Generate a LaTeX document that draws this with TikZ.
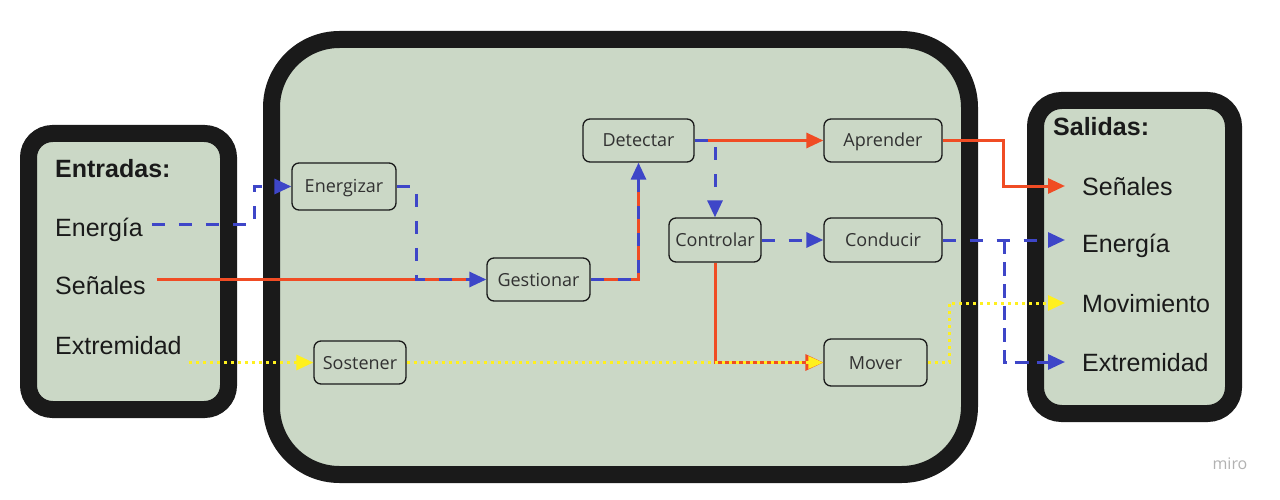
\documentclass[tikz,border=0pt]{standalone}
\usepackage{fontspec}
\setmainfont{Liberation Sans}
\newfontfamily\osans{Open Sans}
\usetikzlibrary{arrows.meta,calc}
\definecolor{sage}{RGB}{203,216,198}
\definecolor{frame}{RGB}{26,26,26}
\definecolor{bl}{RGB}{62,70,200}
\definecolor{rd}{RGB}{240,76,36}
\definecolor{yl}{RGB}{255,240,30}
\begin{document}
\begin{tikzpicture}[x=1pt,y=-1pt,
 bigbox/.style={draw=frame, line width=17pt, fill=sage},
 proc/.style={draw=frame, line width=1.3pt, rounded corners=7pt, fill=sage, inner sep=0pt,
   font=\osans\fontsize{18}{21}\selectfont, text=frame!90, text height=13pt, text depth=0pt},
 lbl/.style={anchor=west, inner sep=0pt, font=\fontsize{25}{28}\selectfont, text=frame,
   text height=18pt, text depth=0pt},
 hdr/.style={lbl, font=\bfseries\fontsize{25}{28}\selectfont},
 bdash/.style={draw=bl, line width=3pt, dash pattern=on 13pt off 14pt},
 rline/.style={draw=rd, line width=3pt},
 ydot/.style={draw=yl, line width=3pt, dash pattern=on 3pt off 4pt},
 tip/.style={-{Triangle[length=17pt,width=15pt]}},
 ]
\useasboundingbox (0,0) rectangle (1280,500);
\fill[white] (0,0) rectangle (1280,500);

% big containers
\draw[bigbox, rounded corners=24pt] (28.5,133.5) rectangle (228.5,409.5);
\draw[bigbox, rounded corners=68pt] (271.5,39.5) rectangle (969.5,474.5);
\draw[bigbox, rounded corners=26pt] (1035.5,100.5) rectangle (1233.5,413.5);

% left labels
\node[hdr] (inH) at (55,169) {Entradas:};
\node[lbl] (inE) at (55,227.5) {Energía};
\node[lbl] (inS) at (55,285.5) {Señales};
\node[lbl] (inX) at (55,345) {Extremidad};

% right labels
\node[hdr] (outH) at (1053,127) {Salidas:};
\node[lbl] (oS) at (1082,186) {Señales};
\node[lbl] (oE) at (1082,243) {Energía};
\node[lbl] (oM) at (1082,303) {Movimiento};
\node[lbl] (oX) at (1082,362) {Extremidad};

% process nodes
\node[proc, minimum width=104pt, minimum height=47pt] (en) at (344,186.5) {Energizar};
\node[proc, minimum width=92pt, minimum height=43pt] (so) at (360,362.5) {Sostener};
\node[proc, minimum width=103pt, minimum height=43pt] (ge) at (538.5,279.5) {Gestionar};
\node[proc, minimum width=111pt, minimum height=43pt] (de) at (638.5,140.5) {Detectar};
\node[proc, minimum width=92pt, minimum height=44pt] (co) at (715,240) {Controlar};
\node[proc, minimum width=118pt, minimum height=43pt] (ap) at (883,140.5) {Aprender};
\node[proc, minimum width=118pt, minimum height=44pt] (cd) at (883,240) {Conducir};
\node[proc, minimum width=103pt, minimum height=47pt] (mv) at (875.5,362.5) {Mover};

\node[font=\osans\fontsize{16}{18}\selectfont, text=black!30] (miro) at (1230,464) {miro};

% connectors
\draw[bdash, tip, shorten <=9pt] ([yshift=3pt]inE.east) -| ([xshift=-37pt]en.west) -- (en.west);
\draw[rline, shorten <=11pt, shorten >=10pt] (inS.east |- ge.west) -- (ge.west);
\draw[bdash, tip] (en.east) -| ([xshift=-70pt]ge.west) -- (ge.west);

\draw[rline, shorten >=10pt] (ge.east) -| (de.south);
\draw[bdash, tip] (ge.east) -| (de.south);

\draw[rline, tip] (de.east) -- (ap.west);
\draw[bdash, tip] (de.east) -| (co.north);

\draw[bdash, tip] (co.east) -- (cd.west);

\draw[rline, -{Triangle[length=18pt,width=16pt]}] (co.south) |- (mv.west);
\draw[ydot, -{Triangle[length=15pt,width=12pt]}] (so.east) -- (mv.west);
\draw[ydot, tip, shorten <=7pt] (inX.east |- so.west) -- (so.west);

\draw[rline, tip, shorten >=17pt] (ap.east) -| ([xshift=-79pt]oS.west) -- (oS.west);
\draw[bdash, tip, shorten >=17pt] (cd.east) -- (cd.east -| oE.west);
\draw[bdash, dash pattern=on 14pt off 8pt, tip, shorten >=17pt] ([xshift=62pt]cd.east) |- (oX.west);
\draw[ydot, tip, shorten >=17pt] (mv.east) -| ([xshift=-133pt]oM.west) -- (oM.west);
\end{tikzpicture}
\end{document}
